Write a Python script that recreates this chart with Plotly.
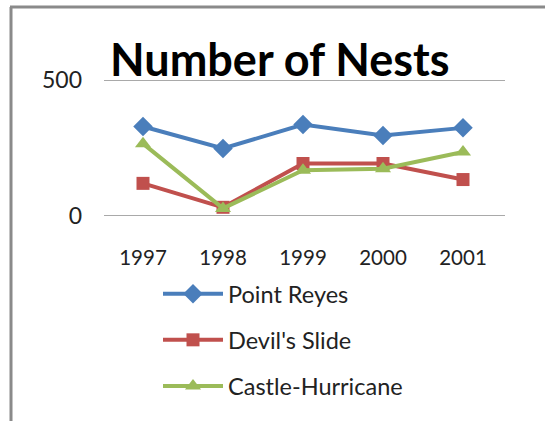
import plotly.graph_objects as go

years = ["1997", "1998", "1999", "2000", "2001"]
point_reyes = [329, 248, 336, 296, 324]
devils_slide = [120, 32, 193, 193, 134]
castle_hurricane = [266, 28, 168, 174, 235]
y_ticks = [0, 500]

W, H = 545, 421
L, R, T, B = 103, 42, 80, 205

fig = go.Figure()
series = [
    ("Point Reyes", point_reyes, "#4A7EBB", "diamond", 15),
    ("Devil's Slide", devils_slide, "#C0504D", "square", 13),
    ("Castle-Hurricane", castle_hurricane, "#9BBB59", "triangle-up", 14),
]
for i, (name, vals, col, sym, sz) in enumerate(series):
    fig.add_trace(go.Scatter(
        x=years, y=vals, name=name, mode="lines+markers",
        line=dict(color=col, width=4),
        marker=dict(symbol=sym, size=sz, color=col),
        legendgroup=f"g{i}",
    ))

ph = H - T - B
pw = W - L - R
def px_x(x):
    return (x - L) / pw
def px_y(y):
    return (H - B - y) / ph

shapes = [
    dict(type="line", xref="paper", yref="paper",
         x0=px_x(11), x1=px_x(11), y0=px_y(7), y1=px_y(421),
         line=dict(color="#8a8a8a", width=3)),
    dict(type="line", xref="paper", yref="paper",
         x0=px_x(10), x1=px_x(545), y0=px_y(7), y1=px_y(7),
         line=dict(color="#8a8a8a", width=3)),
]
for v in y_ticks:
    shapes.append(dict(type="line", xref="paper", yref="y",
                       x0=px_x(104), x1=px_x(505), y0=v, y1=v,
                       line=dict(color="#8c8c8c", width=1.5), layer="below"))

fig.update_layout(
    width=W, height=H,
    margin=dict(l=L, r=R, t=T, b=B, autoexpand=False),
    paper_bgcolor="white", plot_bgcolor="white",
    font=dict(family="Lato, Open Sans, sans-serif", color="#222"),
    showlegend=True,
    legend=dict(
        x=px_x(158), y=px_y(272), xanchor="left", yanchor="top",
        font=dict(size=23.5, color="#222"),
        traceorder="grouped", tracegroupgap=12.5,
        itemwidth=60, bgcolor="rgba(0,0,0,0)",
    ),
    xaxis=dict(
        type="category", range=[-0.5, 4.5], showgrid=False,
        showline=False, zeroline=False, ticks="",
        tickfont=dict(size=20.5, color="#222"), ticklabelstandoff=27,
    ),
    yaxis=dict(
        range=[0, 500], tickvals=y_ticks, showgrid=False,
        zeroline=False, showline=False,
        ticks="", tickfont=dict(size=23, color="#222"), ticklabelstandoff=20,
    ),
    annotations=[dict(
        text="<b>Number of Nests</b>", xref="paper", yref="paper",
        x=px_x(279), y=px_y(59), xanchor="center", yanchor="middle",
        showarrow=False, font=dict(size=45, color="black"),
    )],
    shapes=shapes,
)

fig.write_html("out.html")
